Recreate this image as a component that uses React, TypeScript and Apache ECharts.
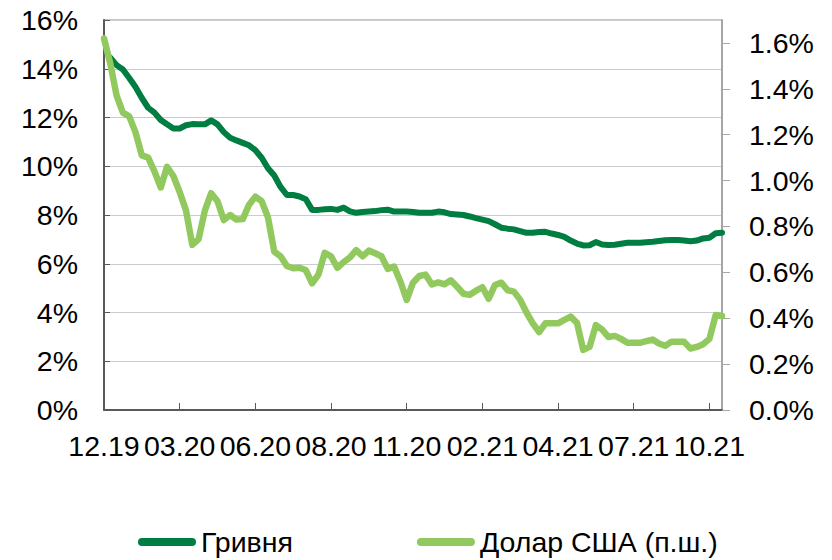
import React, { useEffect, useRef } from "react";
import * as echarts from "echarts";

// Tick labels of the x axis (one every 12 observations)
const xTickLabels = ["12.19", "03.20", "06.20", "08.20", "11.20", "02.21", "04.21", "07.21", "10.21"];
const POINTS_PER_TICK = 12;

// Гривня, % (left axis)
const uahRates: (number | null)[] = [
  null, 14.45, 14.15, 13.97, 13.62, 13.25, 12.8, 12.4, 12.2, 11.9,
  11.72, 11.55, 11.55, 11.68, 11.73, 11.72, 11.72, 11.88, 11.72, 11.4,
  11.17, 11.06, 10.96, 10.86, 10.66, 10.35, 9.92, 9.62, 9.15, 8.82,
  8.82, 8.76, 8.65, 8.21, 8.21, 8.24, 8.25, 8.21, 8.3, 8.15,
  8.09, 8.12, 8.14, 8.16, 8.2, 8.22, 8.14, 8.14, 8.14, 8.12,
  8.09, 8.09, 8.09, 8.14, 8.11, 8.04, 8.02, 8.0, 7.94, 7.87,
  7.81, 7.75, 7.62, 7.48, 7.44, 7.41, 7.34, 7.27, 7.27, 7.3,
  7.31, 7.24, 7.18, 7.1, 6.95, 6.83, 6.75, 6.76, 6.89, 6.79,
  6.77, 6.78, 6.82, 6.86, 6.86, 6.86, 6.88, 6.9, 6.93, 6.96,
  6.97, 6.97, 6.95, 6.92, 6.95, 7.04, 7.07, 7.25, 7.27,
];

// Долар США, % (right axis)
const usdRates: number[] = [
  1.62, 1.51, 1.37, 1.296, 1.28, 1.21, 1.11, 1.1, 1.04, 0.97,
  1.06, 1.02, 0.95, 0.87, 0.72, 0.745, 0.87, 0.945, 0.91, 0.828,
  0.85, 0.83, 0.832, 0.895, 0.93, 0.91, 0.84, 0.69, 0.67, 0.628,
  0.618, 0.62, 0.61, 0.552, 0.59, 0.685, 0.67, 0.62, 0.645, 0.665,
  0.697, 0.67, 0.695, 0.683, 0.67, 0.615, 0.625, 0.56, 0.48, 0.555,
  0.584, 0.59, 0.547, 0.556, 0.548, 0.565, 0.537, 0.507, 0.502, 0.52,
  0.535, 0.485, 0.545, 0.555, 0.522, 0.516, 0.48, 0.425, 0.378, 0.34,
  0.378, 0.378, 0.378, 0.393, 0.407, 0.38, 0.262, 0.275, 0.37, 0.35,
  0.318, 0.323, 0.31, 0.293, 0.293, 0.293, 0.3, 0.307, 0.29, 0.28,
  0.298, 0.298, 0.297, 0.268, 0.275, 0.287, 0.31, 0.414, 0.41,
];

const seriesNames = ["Гривня", "Долар США (п.ш.)"];
const leftTicks = [0, 2, 4, 6, 8, 10, 12, 14, 16];
const rightTicks = [0, 0.2, 0.4, 0.6, 0.8, 1.0, 1.2, 1.4, 1.6];

const FONT = "'Liberation Sans', Arial, sans-serif";
const FONT_SIZE = 28.5;
const DARK = "#007D40";
const LIGHT = "#92C95F";

export default function App() {
  const ref = useRef<HTMLDivElement>(null);
  useEffect(() => {
    if (!ref.current) return;
    const chart = echarts.init(ref.current, undefined, { renderer: "svg" });
    const n = usdRates.length;
    const option: any = {
      animation: false,
      backgroundColor: "#ffffff",
      textStyle: { fontFamily: FONT },
      grid: {
        left: 104,
        right: 110,
        top: 20,
        bottom: 150,
        show: true,
        borderColor: "#8C8C8C",
        borderWidth: 1,
        backgroundColor: "transparent",
      },
      legend: {
        left: 138,
        top: 527,
        padding: 0,
        itemWidth: 58,
        itemHeight: 8,
        itemGap: 124,
        icon: "path://M4,0 H54 A4,4 0 0 1 54,8 H4 A4,4 0 0 1 4,0 Z",
        textStyle: { fontSize: FONT_SIZE, color: "#000", fontFamily: FONT, lineHeight: 30 },
        data: [
          { name: seriesNames[0], itemStyle: { color: DARK } },
          { name: seriesNames[1], itemStyle: { color: LIGHT } },
        ],
      },
      xAxis: {
        type: "value",
        min: 0,
        max: n - 1,
        interval: POINTS_PER_TICK,
        splitLine: { show: false },
        axisLine: { show: true, lineStyle: { color: "#595959", width: 2 } },
        axisTick: {
          show: true,
          inside: true,
          length: 7,
          lineStyle: { color: "#595959", width: 1 },
          customValues: xTickLabels.map((_, i) => i * POINTS_PER_TICK),
        },
        axisLabel: {
          margin: 21,
          fontSize: FONT_SIZE,
          color: "#000",
          fontFamily: FONT,
          customValues: xTickLabels.map((_, i) => i * POINTS_PER_TICK),
          formatter: (v: number) =>
            v % POINTS_PER_TICK === 0 ? xTickLabels[v / POINTS_PER_TICK] ?? "" : "",
        },
      },
      yAxis: [
        {
          type: "value",
          min: 0,
          max: 16,
          interval: 2,
          position: "left",
          axisLine: { show: true, lineStyle: { color: "#595959", width: 2 } },
          axisTick: {
            show: true,
            inside: true,
            length: 6,
            lineStyle: { color: "#595959" },
            customValues: leftTicks,
          },
          splitLine: { show: true, lineStyle: { color: "#C9CDD1", width: 1 } },
          axisLabel: {
            margin: 26,
            fontSize: FONT_SIZE,
            color: "#000",
            fontFamily: FONT,
            customValues: leftTicks,
            formatter: (v: number) => `${Math.round(v)}%`,
          },
        },
        {
          type: "value",
          min: 0,
          max: 1.7,
          position: "right",
          splitLine: { show: false },
          axisLine: { show: true, lineStyle: { color: "#A6A6A6", width: 2 } },
          axisTick: {
            show: true,
            inside: false,
            length: 8,
            lineStyle: { color: "#A6A6A6" },
            customValues: rightTicks,
          },
          axisLabel: {
            margin: 27,
            fontSize: FONT_SIZE,
            color: "#000",
            fontFamily: FONT,
            customValues: rightTicks,
            formatter: (v: number) => {
              if (Math.abs(v * 5 - Math.round(v * 5)) > 1e-6) return "";
              return `${v.toFixed(1)}%`;
            },
          },
        },
      ],
      series: [
        {
          name: seriesNames[0],
          type: "line",
          yAxisIndex: 0,
          showSymbol: false,
          symbol: "none",
          connectNulls: false,
          lineStyle: { color: DARK, width: 6, cap: "round", join: "round" },
          itemStyle: { color: DARK },
          data: uahRates.map((v, i) => [i, v]),
        },
        {
          name: seriesNames[1],
          type: "line",
          yAxisIndex: 1,
          showSymbol: false,
          symbol: "none",
          lineStyle: { color: LIGHT, width: 6.5, cap: "round", join: "round" },
          itemStyle: { color: LIGHT },
          data: usdRates.map((v, i) => [i, v]),
        },
      ],
    };
    chart.setOption(option);
    return () => chart.dispose();
  }, []);
  return (
    <div
      ref={ref}
      style={{ position: "absolute", left: 0, top: 0, width: 832, height: 560, background: "#fff" }}
    />
  );
}
